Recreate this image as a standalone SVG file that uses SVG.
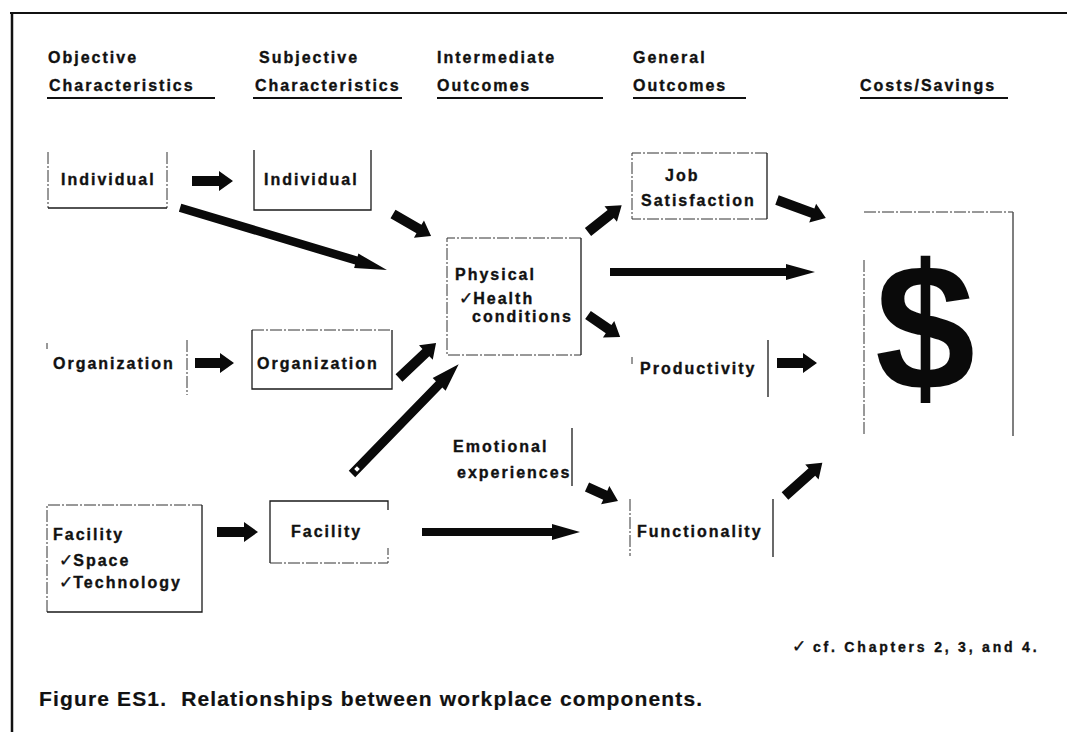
<svg xmlns="http://www.w3.org/2000/svg" width="1067" height="732" viewBox="0 0 1067 732">
  <style>
    .t { font-family: "Liberation Sans", Arial, Helvetica, sans-serif; font-weight: bold; font-size: 16px; letter-spacing: 2px; fill: #111; stroke: #111; stroke-width: 0.35; }
    .ck { font-family: "DejaVu Sans", sans-serif; font-weight: bold; font-size: 17px; letter-spacing: 0; }
    .cap { font-size: 21px; letter-spacing: 1.15px; stroke-width: 0.2; }
    .fn { font-size: 14px; letter-spacing: 2.8px; }
    .dollar { font-family: "Liberation Sans", Arial, sans-serif; font-weight: bold; font-size: 180px; fill: #0a0a0a; }
    .solid { stroke: #1a1a1a; stroke-width: 1.3; fill: none; }
    .dash { stroke: #333; stroke-width: 1; stroke-dasharray: 12 2 2 2; fill: none; }
    .rule { stroke: #111; stroke-width: 2; fill: none; }
    .arrow { fill: #0a0a0a; }
  </style>
  <rect width="1067" height="732" fill="#fff"/>

  <!-- page frame -->
  <g id="frame">
    <line class="rule" x1="10" y1="13" x2="1067" y2="13"/>
    <line x1="12" y1="13" x2="12" y2="732" stroke="#111" stroke-width="2.5"/>
  </g>

  <!-- column headings -->
  <g id="headings">
    <text class="t" x="48" y="63">Objective</text>
    <text class="t" x="49" y="91">Characteristics</text>
    <line class="rule" x1="47" y1="98" x2="215" y2="98"/>
    <text class="t" x="259" y="63">Subjective</text>
    <text class="t" x="255" y="91">Characteristics</text>
    <line class="rule" x1="253" y1="98" x2="402" y2="98"/>
    <text class="t" x="437" y="63">Intermediate</text>
    <text class="t" x="437" y="91">Outcomes</text>
    <line class="rule" x1="437" y1="98" x2="603" y2="98"/>
    <text class="t" x="633" y="63">General</text>
    <text class="t" x="633" y="91">Outcomes</text>
    <line class="rule" x1="633" y1="98" x2="746" y2="98"/>
    <text class="t" x="860" y="91">Costs/Savings</text>
    <line class="rule" x1="860" y1="98" x2="1008" y2="98"/>
  </g>

  <!-- objective characteristics -->
  <g id="obj-individual">
    <path class="dash" d="M48,152 V208 M167,152 V208"/>
    <path class="solid" d="M48,208 H167"/>
    <text class="t" x="61" y="185">Individual</text>
  </g>
  <g id="obj-organization">
    <path class="dash" d="M47,343 V349 M187,340 V395"/>
    <text class="t" x="53" y="369">Organization</text>
  </g>
  <g id="obj-facility">
    <path class="dash" d="M47,612 V505 H202"/>
    <path class="solid" d="M202,505 V612 H47"/>
    <text class="t" x="53" y="540">Facility</text>
    <text class="t" x="59" y="566"><tspan class="ck">✓</tspan>Space</text>
    <text class="t" x="59" y="588"><tspan class="ck">✓</tspan>Technology</text>
  </g>

  <!-- subjective characteristics -->
  <g id="subj-individual">
    <path class="solid" d="M254,150 V210 H371 V150"/>
    <text class="t" x="264" y="185">Individual</text>
  </g>
  <g id="subj-organization">
    <path class="dash" d="M252,330 H392"/>
    <path class="solid" d="M252,330 V389 H392 V330"/>
    <text class="t" x="257" y="369">Organization</text>
  </g>
  <g id="subj-facility">
    <path class="solid" d="M270,563 V501 H388 V510"/>
    <path class="dash" d="M270,563 H388 V548"/>
    <text class="t" x="291" y="537">Facility</text>
  </g>

  <!-- intermediate outcomes -->
  <g id="physical">
    <path class="dash" d="M581,238 H447 V355 H581"/>
    <path class="solid" d="M581,238 V355"/>
    <text class="t" x="455" y="280">Physical</text>
    <text class="t" x="459" y="304"><tspan class="ck">✓</tspan>Health</text>
    <text class="t" x="472" y="322">conditions</text>
  </g>
  <g id="emotional">
    <path class="solid" d="M572,428 V486"/>
    <text class="t" x="453" y="452">Emotional</text>
    <text class="t" x="457" y="478">experiences</text>
  </g>

  <!-- general outcomes -->
  <g id="job-satisfaction">
    <path class="dash" d="M767,153 H632 V219 H767"/>
    <path class="solid" d="M767,153 V219"/>
    <text class="t" x="665" y="181">Job</text>
    <text class="t" x="641" y="206">Satisfaction</text>
  </g>
  <g id="productivity">
    <path class="dash" d="M632,357 V364"/>
    <path class="solid" d="M768,340 V397"/>
    <text class="t" x="640" y="374">Productivity</text>
  </g>
  <g id="functionality">
    <path class="dash" d="M630,499 V556"/>
    <path class="solid" d="M773,499 V557"/>
    <text class="t" x="637" y="537">Functionality</text>
  </g>

  <!-- costs / savings -->
  <g id="costs">
    <path class="dash" d="M864,212 H1013 M864,260 V434"/>
    <path d="M1013,212 V436" stroke="#555" stroke-width="1.5" fill="none"/>
    <text class="dollar" x="925" y="390" text-anchor="middle">$</text>
  </g>

  <!-- connectors -->
  <g id="connectors" class="arrow">
    <path transform="translate(192,181)" d="M0,-5 H27 V-10 L41,0 L27,10 V5 H0Z"/>
    <path transform="translate(180,208) rotate(16.67)" d="M0,-4.5 H184 V-7.5 L216,0 L184,7.5 V4 H0Z"/>
    <path transform="translate(393,214) rotate(30.07)" d="M0,-5 H30 V-10 L44,0 L30,10 V5 H0Z"/>
    <path transform="translate(588,232) rotate(-38.45)" d="M0,-5 H29 V-10 L43,0 L29,10 V5 H0Z"/>
    <path transform="translate(777,200) rotate(20.17)" d="M0,-5 H38 V-10 L52,0 L38,10 V5 H0Z"/>
    <path transform="translate(610,272)" d="M0,-4 H176 V-8 L205,0 L176,8 V4 H0Z"/>
    <path transform="translate(588,315) rotate(34.5)" d="M0,-5 H25 V-10 L39,0 L25,10 V5 H0Z"/>
    <path transform="translate(777,363)" d="M0,-5 H26 V-10 L40,0 L26,10 V5 H0Z"/>
    <path transform="translate(195,363)" d="M0,-5 H25 V-10 L39,0 L25,10 V5 H0Z"/>
    <path transform="translate(399,378) rotate(-43.4)" d="M0,-5 H37 V-10 L51,0 L37,10 V5 H0Z"/>
    <path transform="translate(352,474) rotate(-45.8)" d="M0,-4.5 H125 V-9 L153,0 L125,9 V4.5 H0Z"/>
    <rect x="355" y="467" width="4" height="4" fill="#fff" transform="rotate(-45.8 357 469)"/>
    <path transform="translate(217,532)" d="M0,-5 H27 V-10 L41,0 L27,10 V5 H0Z"/>
    <path transform="translate(422,532)" d="M0,-4 H130 V-8 L158,0 L130,8 V4 H0Z"/>
    <path transform="translate(587,487) rotate(24.3)" d="M0,-5 H20 V-10 L34,0 L20,10 V5 H0Z"/>
    <path transform="translate(785,496) rotate(-41.7)" d="M0,-5 H36 V-10 L50,0 L36,10 V5 H0Z"/>
  </g>

  <!-- notes -->
  <g id="notes">
    <text class="t fn" x="792" y="652"><tspan class="ck">✓</tspan> cf. Chapters 2, 3, and 4.</text>
    <text class="t cap" x="39" y="706">Figure ES1.&#160; Relationships between workplace components.</text>
  </g>
</svg>
